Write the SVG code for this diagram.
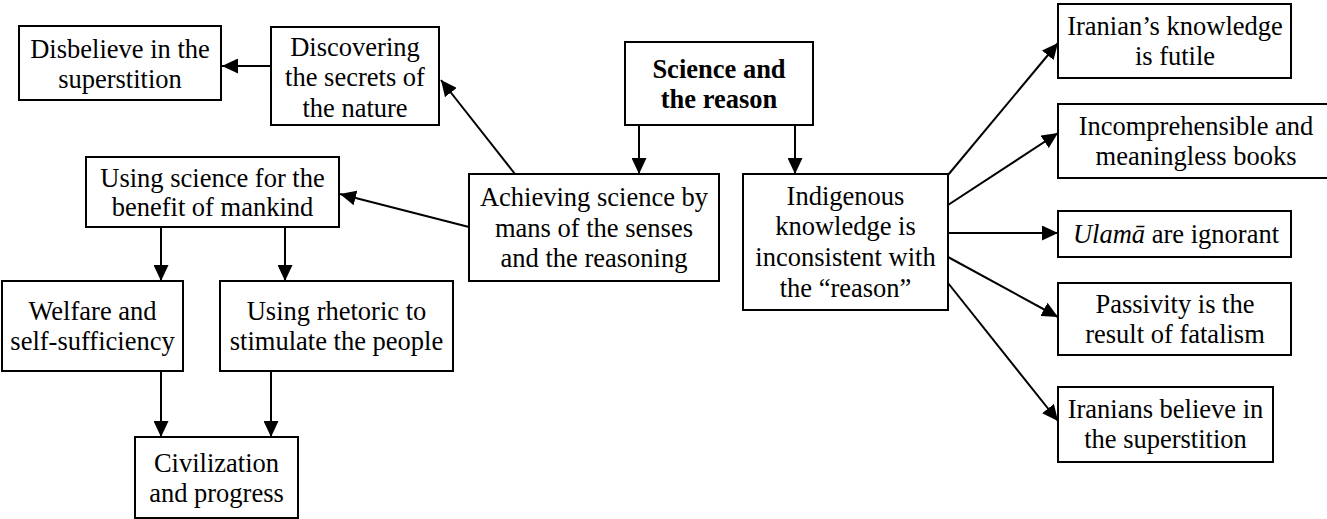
<svg xmlns="http://www.w3.org/2000/svg" width="1327" height="519" viewBox="0 0 1327 519">
  <style>
    .box { fill: #ffffff; stroke: #000000; stroke-width: 2; }
    .edge { stroke: #000000; stroke-width: 2; fill: none; marker-end: url(#arrow); }
  </style>
  <defs>
    <marker id="arrow" markerUnits="userSpaceOnUse" markerWidth="17" markerHeight="15" refX="16" refY="7.5" orient="auto">
      <path d="M0,0 L16,7.5 L0,15 z" fill="#000000"/>
    </marker>
  </defs>
  <rect width="1327" height="519" fill="#ffffff"/>

  <!-- connectors -->
  <g id="connectors">
    <line class="edge" x1="271" y1="66" x2="222" y2="66"/>
    <line class="edge" x1="515" y1="174" x2="441" y2="80"/>
    <line class="edge" x1="639" y1="125" x2="639" y2="174"/>
    <line class="edge" x1="795" y1="125" x2="795" y2="174"/>
    <line class="edge" x1="469" y1="227" x2="340" y2="194"/>
    <line class="edge" x1="161" y1="227" x2="161" y2="281"/>
    <line class="edge" x1="285" y1="227" x2="285" y2="281"/>
    <line class="edge" x1="161" y1="371" x2="161" y2="437"/>
    <line class="edge" x1="271" y1="371" x2="271" y2="437"/>
    <line class="edge" x1="948" y1="175" x2="1058" y2="43"/>
    <line class="edge" x1="948" y1="205" x2="1058" y2="133"/>
    <line class="edge" x1="948" y1="233" x2="1058" y2="233"/>
    <line class="edge" x1="948" y1="257" x2="1058" y2="317"/>
    <line class="edge" x1="948" y1="283" x2="1058" y2="421"/>
  </g>

  <!-- all labels share one serif face -->
  <g font-family="Liberation Serif, Times New Roman, Times, Noto Serif, DejaVu Serif, serif" font-size="26.5" fill="#000000" text-anchor="middle">

  <g id="disbelieve">
    <rect class="box" x="19" y="26" width="202" height="74"/>
    <text x="120" y="58">Disbelieve in the</text>
    <text x="120" y="88">superstition</text>
  </g>

  <g id="discovering">
    <rect class="box" x="271" y="27" width="168" height="98"/>
    <text x="355" y="56">Discovering</text>
    <text x="355" y="86">the secrets of</text>
    <text x="355" y="117">the nature</text>
  </g>

  <g id="science">
    <rect class="box" x="625" y="42" width="188" height="83"/>
    <text font-weight="bold" x="719" y="78">Science and</text>
    <text font-weight="bold" x="719" y="108">the reason</text>
  </g>

  <g id="achieving">
    <rect class="box" x="469" y="174" width="250" height="107"/>
    <text x="594" y="206">Achieving science by</text>
    <text x="594" y="237">mans of the senses</text>
    <text x="594" y="267">and the reasoning</text>
  </g>

  <g id="indigenous">
    <rect class="box" x="743" y="174" width="205" height="136"/>
    <text x="845.5" y="205">Indigenous</text>
    <text x="845.5" y="235">knowledge is</text>
    <text x="845.5" y="266">inconsistent with</text>
    <text x="845.5" y="297">the “reason”</text>
  </g>

  <g id="using-science">
    <rect class="box" x="86" y="157" width="253" height="70"/>
    <text x="212.5" y="187">Using science for the</text>
    <text x="212.5" y="216">benefit of mankind</text>
  </g>

  <g id="welfare">
    <rect class="box" x="2" y="281" width="181" height="90"/>
    <text x="92.5" y="320">Welfare and</text>
    <text x="92.5" y="350">self-sufficiency</text>
  </g>

  <g id="rhetoric">
    <rect class="box" x="220" y="281" width="233" height="90"/>
    <text x="336.5" y="320">Using rhetoric to</text>
    <text x="336.5" y="350">stimulate the people</text>
  </g>

  <g id="civilization">
    <rect class="box" x="135" y="437" width="163" height="81"/>
    <text x="216.5" y="472">Civilization</text>
    <text x="216.5" y="502">and progress</text>
  </g>

  <g id="futile">
    <rect class="box" x="1058" y="4" width="233" height="74"/>
    <text x="1175" y="35">Iranian’s knowledge</text>
    <text x="1175" y="65">is futile</text>
  </g>

  <g id="books">
    <rect class="box" x="1058" y="104" width="280" height="74"/>
    <text x="1196" y="135">Incomprehensible and</text>
    <text x="1196" y="165">meaningless books</text>
  </g>

  <g id="ulama">
    <rect class="box" x="1058" y="211" width="233" height="46"/>
    <text x="1176" y="243"><tspan font-style="italic">Ulamā</tspan> are ignorant</text>
  </g>

  <g id="passivity">
    <rect class="box" x="1058" y="283" width="233" height="72"/>
    <text x="1175" y="313">Passivity is the</text>
    <text x="1175" y="343">result of fatalism</text>
  </g>

  <g id="believe">
    <rect class="box" x="1058" y="387" width="215" height="75"/>
    <text x="1165.5" y="418">Iranians believe in</text>
    <text x="1165.5" y="448">the superstition</text>
  </g>

  </g>
</svg>
